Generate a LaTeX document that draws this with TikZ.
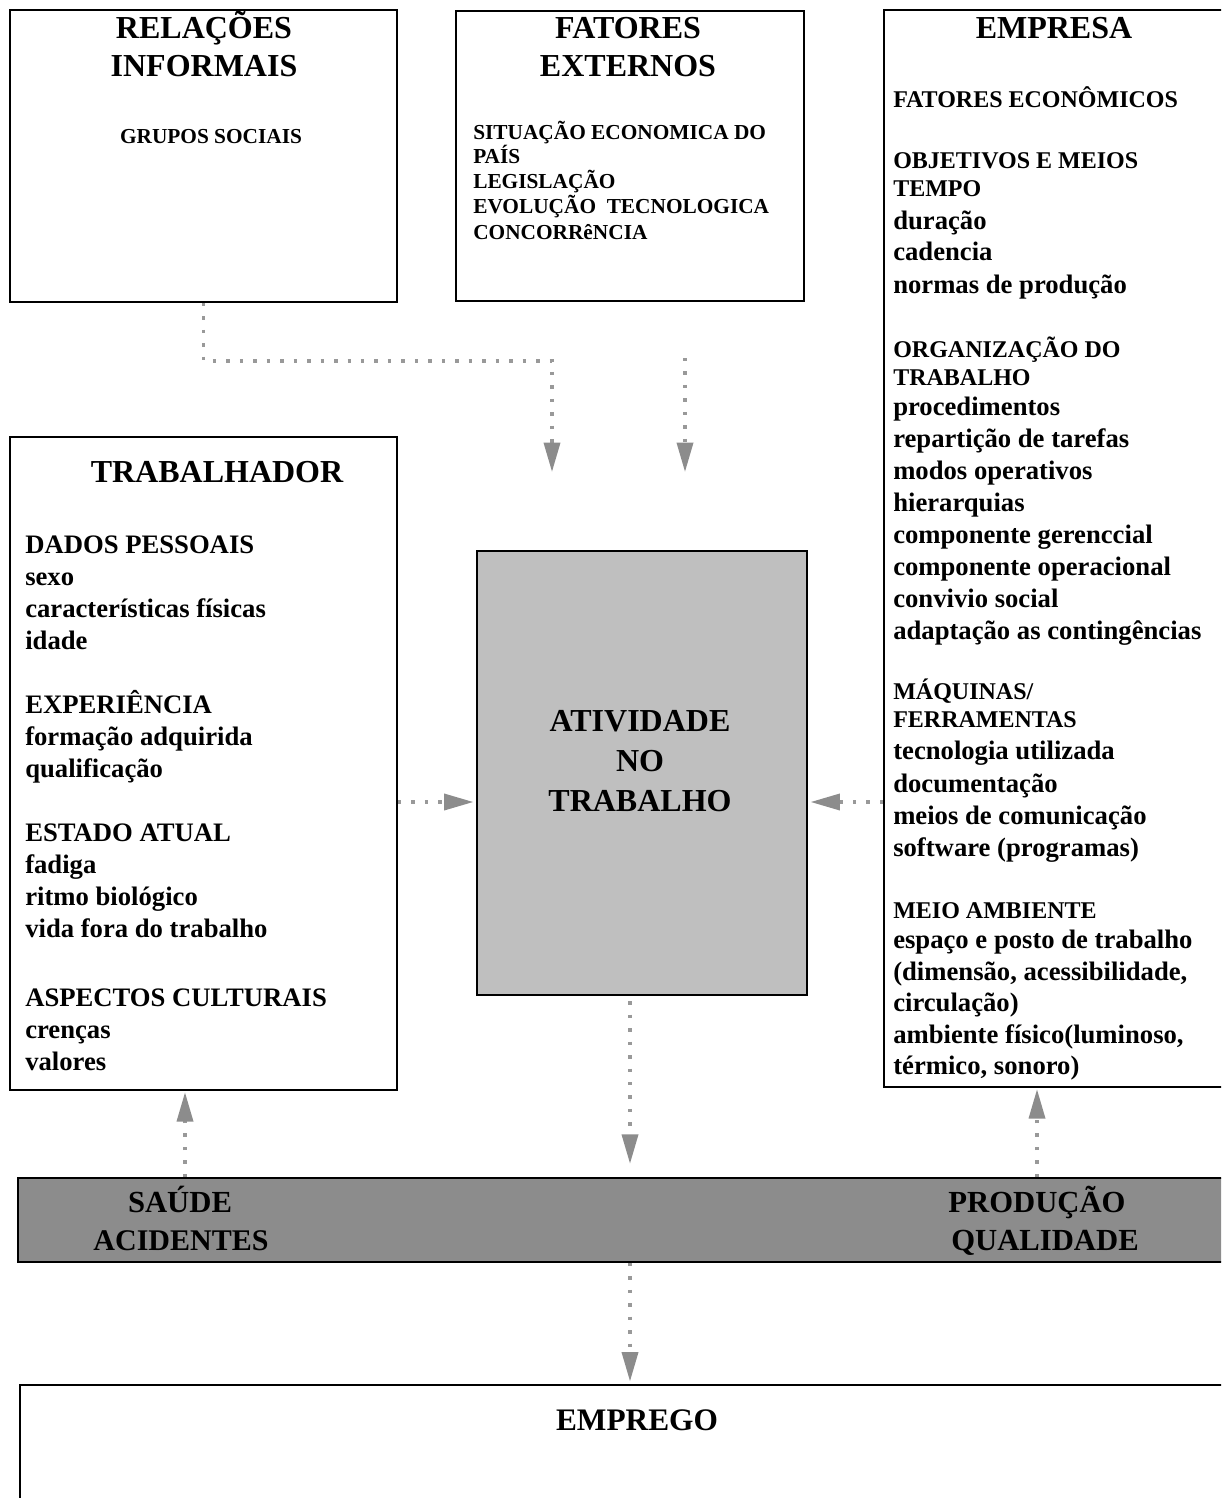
\documentclass[tikz,border=0pt]{standalone}
\usepackage{fontspec}
\setmainfont{Liberation Serif}
\usetikzlibrary{arrows.meta,positioning,fit}

% tamanhos de letra
\newcommand{\cab}{\fontsize{18}{20}\selectfont}
\newcommand{\tit}{\fontsize{24}{28}\selectfont\bfseries}

\tikzset{
  caixa/.style={draw, line width=1.3pt, inner sep=0pt},
  linha/.style={anchor=base west, inner sep=0pt, font=\fontsize{20}{24}\selectfont\bfseries},
  titulo/.style={anchor=base, inner sep=0pt, font=\tit},
  fluxo/.style={draw=black!40, line width=2.6pt, dash pattern=on 2.6pt off 7.5pt,
    -{Triangle[length=22pt, width=12pt, fill=black!45, color=black!45]}},
}

\begin{document}
\begin{tikzpicture}[x=0.75pt, y=-0.75pt]
\useasboundingbox (0,0) rectangle (1221,1498);
\clip (0,0) rectangle (1221,1498);

%% caixas
\node[caixa, fit={(10,10) (397,302)}] (rel) {};
\node[caixa, fit={(456,11) (804,301)}] (ext) {};
\node[caixa, fit={(884,10) (1240,1087)}] (emp) {};
\node[caixa, fit={(10,437) (397,1090)}] (trab) {};
\node[caixa, fill=black!25, fit={(477,551) (807,995)}] (ativ) {};
\node[caixa, fill=black!45, fit={(18,1178) (1240,1262)}] (faixa) {};
\node[caixa, fit={(20,1385) (1240,1520)}] (empr) {};

%% relacoes informais
\node[titulo] (relA) at (204,39) {RELAÇÕES};
\node[titulo] (relB) at (204,77) {INFORMAIS};
\node[anchor=base, inner sep=0pt, font=\fontsize{16}{18}\selectfont\bfseries] (grupos) at (211,144) {GRUPOS SOCIAIS};

%% fatores externos
\node[titulo] (extA) at (628,39) {FATORES};
\node[titulo] (extB) at (628,77) {EXTERNOS};
\foreach \y/\t [count=\i] in {140/{SITUAÇÃO ECONOMICA DO}, 164/PAÍS, 189/LEGISLAÇÃO,
    214/{EVOLUÇÃO\ \ TECNOLOGICA}, 239/CONCORRêNCIA}
  \node[linha, font=\fontsize{16}{18}\selectfont\bfseries] (ext\i) at (473,\y) {\t};

%% empresa
\node[titulo] (empT) at (1054,39) {EMPRESA};
\foreach \y/\t [count=\i] in {
    108/{\cab FATORES ECONÔMICOS},
    169/{\cab OBJETIVOS E MEIOS}, 197/{\cab TEMPO}, 229/duração, 261/cadencia,
    293/{normas de produção},
    357/{\cab ORGANIZAÇÃO DO}, 385/{\cab TRABALHO}, 415/procedimentos,
    447/{repartição de tarefas}, 479/{modos operativos}, 511/hierarquias,
    543/{componente gerenccial}, 575/{componente operacional},
    607/{convivio social}, 639/{adaptação as contingências},
    699/{\cab MÁQUINAS/}, 727/{\cab FERRAMENTAS}, 759/{tecnologia utilizada},
    792/documentação, 824/{meios de comunicação}, 856/{software (programas)},
    918/{\cab MEIO AMBIENTE}, 948/{espaço e posto de trabalho},
    980/{(dimensão, acessibilidade,}, 1011/{circulação)},
    1043/{ambiente físico(luminoso,}, 1074/{térmico, sonoro)}}
  \node[linha] (emp\i) at (893,\y) {\t};

%% trabalhador
\node[titulo] (trabT) at (217,482) {TRABALHADOR};
\foreach \y/\t [count=\i] in {
    553/{DADOS PESSOAIS}, 585/sexo, 617/{características físicas}, 649/idade,
    713/EXPERIÊNCIA, 745/{formação adquirida}, 777/qualificação,
    841/{ESTADO ATUAL}, 873/fadiga, 905/{ritmo biológico}, 937/{vida fora do trabalho},
    1006/{ASPECTOS CULTURAIS}, 1038/crenças, 1070/valores}
  \node[linha] (trab\i) at (25,\y) {\t};

%% atividade, faixa e emprego
\node[titulo] (ativA) at (640,731) {ATIVIDADE};
\node[titulo] (ativB) at (640,771) {NO};
\node[titulo] (ativC) at (640,811) {TRABALHO};
\node[titulo, font=\fontsize{23}{26}\selectfont\bfseries] (saude) at (180,1212) {SAÚDE};
\node[titulo, font=\fontsize{22.5}{26}\selectfont\bfseries] (acid) at (181,1250) {ACIDENTES};
\node[titulo, font=\fontsize{23}{26}\selectfont\bfseries] (prod) at (1037,1212) {PRODUÇÃO};
\node[titulo, font=\fontsize{23}{26}\selectfont\bfseries] (qual) at (1045,1250) {QUALIDADE};
\node[titulo, font=\fontsize{23.5}{26}\selectfont\bfseries] (emprT) at (637,1430) {EMPREGO};

%% setas
\coordinate (c1) at (552,472);
\coordinate (c2) at (685,358);
\coordinate (c3) at (685,472);
\coordinate (meio) at (0,802);
\coordinate (eixo) at (630,0);
\coordinate (xt) at (185,0);
\coordinate (xe) at (1037,0);
\draw[fluxo] (rel.south) -- ++(0,58) -| (c1);
\draw[fluxo] (c2) -- (c3);
\draw[fluxo, shorten >=2pt] (trab.east |- meio) -- (ativ.west |- meio);
\draw[fluxo, shorten >=2pt] (emp.west |- meio) -- (ativ.east |- meio);
\draw[fluxo, shorten <=4pt, shorten >=10pt] (ativ.south -| eixo) -- (faixa.north -| eixo);
\draw[fluxo, shorten >=1pt] (faixa.north -| xt) -- (trab.south -| xt);
\draw[fluxo, shorten >=1pt] (faixa.north -| xe) -- (emp.south -| xe);
\draw[fluxo, shorten >=2pt] (faixa.south -| eixo) -- (empr.north -| eixo);
\end{tikzpicture}
\end{document}
